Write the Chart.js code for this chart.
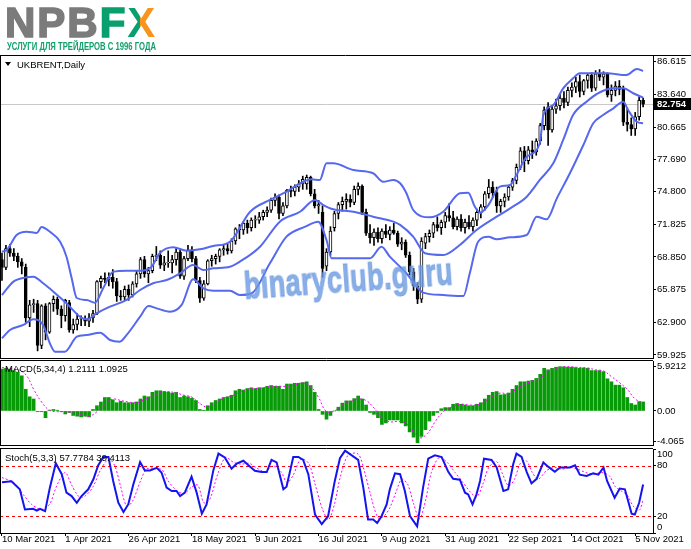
<!DOCTYPE html>
<html>
<head>
<meta charset="utf-8">
<script src="https://cdn.jsdelivr.net/npm/chart.js@4.4.1/dist/chart.umd.min.js"></script>
<style>
html,body{margin:0;padding:0;background:#fff;}
#wrap{position:relative;width:691px;height:549px;overflow:hidden;font-family:"Liberation Sans",Arial,sans-serif;background:#fff;}
canvas{position:absolute;left:0;top:0;}
.txt{position:absolute;white-space:nowrap;font-size:9.5px;line-height:11px;color:#000;z-index:5;}
#logo{position:absolute;left:5px;top:2px;font-weight:bold;font-size:42px;line-height:41px;letter-spacing:2px;color:#7b7b7b;-webkit-text-stroke:1.6px #7b7b7b;z-index:5;}
#logo .f{color:#0a9f6e;-webkit-text-stroke:1.6px #0a9f6e;}
#logo .x{background:linear-gradient(90deg,#0a9f6e 0,#0a9f6e 42%,#f7941d 42%,#f7941d 100%);-webkit-background-clip:text;background-clip:text;color:transparent;-webkit-text-stroke:0;}
#slogan{position:absolute;left:7px;top:40px;font-weight:bold;font-size:11px;line-height:12px;color:#12a06a;transform:scaleX(0.7);transform-origin:0 0;white-space:nowrap;z-index:5;}
#tri{position:absolute;left:5px;top:62px;width:0;height:0;border-left:3px solid transparent;border-right:3px solid transparent;border-top:4px solid #000;z-index:5;}
#wm{position:absolute;left:245px;top:267px;font-weight:bold;font-size:38px;line-height:38px;color:rgba(105,152,224,0.78);-webkit-text-stroke:1px rgba(105,152,224,0.78);letter-spacing:0.5px;transform-origin:0 32px;transform:rotate(-4deg) scaleX(0.71);white-space:nowrap;z-index:4;}
</style>
</head>
<body>
<div id="wrap">
  <canvas id="cMain" width="691" height="549"></canvas>
  <canvas id="cMacd" width="691" height="549"></canvas>
  <canvas id="cStoch" width="691" height="549"></canvas>
  <div id="logo">NPB<span class="f">F</span><span class="x">X</span></div>
  <div id="slogan">УСЛУГИ ДЛЯ ТРЕЙДЕРОВ С 1996 ГОДА</div>
  <div id="tri"></div>
  <div class="txt" style="left:17px;top:58.5px;">UKBRENT,Daily</div>
  <div class="txt" style="left:5px;top:363px;">MACD(5,34,4) 1.2111 1.0925</div>
  <div class="txt" style="left:5px;top:451.5px;">Stoch(5,3,3) 57.7784 39.4113</div>
  <div id="wm">binaryclub.guru</div>
</div>
<script>
// ---------------- DATA ----------------
const dateLabels = ["10 Mar 2021","1 Apr 2021","26 Apr 2021","18 May 2021","9 Jun 2021","16 Jul 2021","9 Aug 2021","31 Aug 2021","22 Sep 2021","14 Oct 2021","5 Nov 2021"];
const dateIdx = [0,16,32,48,64,80,96,112,128,144,160];

const priceTicks = [59.925,62.900,65.875,68.850,71.825,74.800,77.690,80.665,83.640,86.615];
const bidPrice = 82.754;
const macdTicks = [5.9212,0,-4.065];
const macdTickLabels = ["5.9212","0.00","-4.065"];
const stochTicks = [0,20,80,100];
const stochLevels = [20,80];

const open = [68.6,67.9,69.6,69.2,68.9,68.4,67.9,63.3,64.5,64.6,60.8,64.4,62.0,64.6,65.0,64.1,63.5,64.7,62.2,62.7,
63.2,63.2,63.0,63.3,63.7,66.6,66.9,66.8,67.0,66.6,65.3,65.2,65.9,65.4,66.4,67.3,68.6,67.3,67.6,68.9,
69.0,68.1,68.3,68.3,68.6,69.3,67.1,68.7,69.5,68.7,66.7,65.1,66.4,68.5,68.7,68.9,69.5,69.6,69.4,70.3,
71.4,71.3,71.9,71.5,72.2,72.2,72.5,72.9,73.1,74.0,74.3,72.8,73.5,74.9,74.8,75.2,75.5,75.5,76.1,74.6,
73.5,72.9,68.0,69.3,71.5,72.8,73.6,73.9,74.1,73.8,75.0,75.3,72.9,71.0,70.6,71.1,70.5,71.2,70.9,71.3,
71.0,70.0,70.2,69.0,67.5,66.2,65.0,70.1,70.7,71.0,71.8,71.5,72.0,72.6,72.4,71.6,72.3,71.5,72.0,71.6,
72.2,72.9,73.4,74.6,75.2,74.7,73.5,73.9,74.3,75.2,75.8,77.0,78.5,77.6,78.6,78.4,79.4,80.8,82.5,80.4,
82.3,82.6,83.3,82.9,84.0,84.3,84.8,83.9,84.9,85.4,84.2,85.5,85.2,85.5,83.6,84.0,84.4,84.1,81.1,80.9,
80.5,81.6,83.1];
const high = [69.2,69.9,70.0,69.6,69.2,68.7,68.2,64.9,65.0,64.9,64.5,64.6,64.7,65.3,65.2,64.4,65.0,64.9,63.2,63.7,
63.5,63.5,63.7,64.0,66.7,67.1,67.4,67.4,67.7,66.9,65.8,66.2,66.3,66.6,67.6,68.8,68.9,67.9,69.1,69.8,
69.4,68.9,69.4,69.0,69.6,69.5,68.9,69.9,69.8,68.9,67.0,66.7,68.6,69.0,69.1,69.6,69.9,70.0,70.5,71.5,
71.8,72.0,72.2,72.4,72.6,72.9,73.1,73.4,74.2,74.6,74.5,73.8,75.0,75.3,75.4,75.8,76.2,76.3,76.2,75.0,
74.0,73.5,69.6,71.6,73.0,73.8,74.3,74.6,74.5,75.3,75.6,75.4,73.2,71.8,71.4,71.5,71.4,71.8,71.6,71.9,
71.2,70.6,70.4,69.3,67.8,66.5,70.6,71.0,71.3,72.0,72.5,72.2,72.9,73.7,73.0,72.5,72.7,72.3,72.6,72.4,
73.2,73.6,74.8,75.9,75.7,75.2,74.1,74.6,75.3,76.0,77.3,78.8,78.9,78.9,79.4,79.6,81.0,82.5,82.9,82.6,
83.2,83.7,83.9,84.3,84.7,85.2,85.4,85.0,85.5,85.6,85.8,85.9,85.7,85.6,84.5,84.8,84.9,84.4,82.4,81.5,
82.0,83.4,83.3];
const low = [66.7,67.7,68.9,68.5,67.9,67.3,62.9,62.5,63.8,60.3,60.5,61.3,61.9,63.9,63.6,62.4,63.0,62.0,61.9,62.2,
62.6,62.6,62.5,62.9,63.6,66.0,66.5,66.2,66.0,64.8,64.9,64.9,64.9,65.2,66.1,66.9,67.0,66.5,67.4,68.5,
67.8,67.6,67.9,67.4,68.1,66.9,66.8,68.5,68.4,66.5,64.7,64.9,66.3,68.0,68.2,68.4,69.0,69.1,69.2,70.0,
70.5,70.9,71.0,71.2,71.5,71.9,72.2,72.5,72.9,73.5,72.3,72.6,73.3,74.3,74.4,74.8,75.0,75.0,74.4,73.3,
72.8,67.0,67.6,69.0,71.2,72.3,73.0,73.2,73.4,73.6,74.5,72.7,70.8,70.1,69.9,70.2,70.1,70.6,70.4,70.9,
69.8,69.5,68.8,67.2,65.8,64.6,64.7,69.6,70.2,70.6,71.2,70.9,71.5,72.1,71.4,71.3,71.2,71.0,71.4,71.2,
71.7,72.4,73.1,74.2,74.3,72.9,72.9,73.4,74.0,74.9,75.5,76.8,76.6,77.3,77.8,78.1,79.1,80.4,79.0,80.2,
81.9,82.2,82.4,82.6,83.4,83.8,83.4,83.6,84.2,83.9,84.0,84.9,84.5,83.4,83.0,83.5,83.6,80.8,80.3,79.9,
79.9,81.3,82.5];
const close = [67.9,69.6,69.2,68.9,68.4,68.0,63.3,64.5,64.6,60.8,64.4,62.0,64.6,65.0,64.1,63.5,64.9,62.2,62.7,63.2,
63.25,63.0,63.3,63.7,66.6,66.9,66.8,67.0,66.6,65.3,65.2,65.9,65.4,66.4,67.3,68.6,67.3,67.6,68.9,69.0,
68.1,68.3,68.35,68.6,69.3,67.1,68.7,69.5,68.7,66.7,65.1,66.4,68.5,68.7,68.9,69.5,69.6,69.4,70.3,71.4,
71.3,71.9,71.5,72.2,72.25,72.5,72.9,73.1,74.0,74.3,72.8,73.5,74.9,74.8,75.2,75.5,75.9,76.1,74.6,73.5,
73.6,67.8,69.3,71.2,72.8,73.6,73.9,74.1,73.8,75.0,75.3,72.9,71.0,70.6,71.1,70.5,71.2,70.9,71.3,71.0,
70.0,70.2,69.0,67.5,66.2,65.0,70.3,70.7,71.0,71.8,71.5,72.0,72.6,72.4,71.6,72.3,71.5,72.0,71.6,72.2,
72.9,73.4,74.6,75.2,74.7,73.5,73.9,74.3,75.2,75.8,77.0,78.5,77.6,78.6,78.4,79.4,80.8,82.2,80.4,82.3,
82.6,83.3,82.9,84.0,84.3,84.8,83.9,84.9,85.4,84.2,85.5,85.2,85.5,83.6,84.0,84.4,84.1,81.1,80.9,80.5,
81.6,83.1,82.754];

// Bollinger bands (read at sampled bars)
const upperX = [0,1.2,3.7,6.2,8.8,10,12.1,14.7,16.3,17.6,18.9,21.4,23.5,25.6,28.1,31.5,34.9,37.8,39.9,43.3,46.7,50,53.4,57.6,62.7,67.7,71.9,76.1,78.2,80.3,82,83.7,88.8,93.8,96.3,98.9,100.6,102.2,103.9,108.1,111.5,115.7,117.8,119.5,120.8,122.9,125.8,128.4,130,132.6,135.9,136.8,139.3,141.8,144.3,146,152.8,157.8,160.4,162];
const upperV = [69.32,69.48,70.84,71.14,71.03,71.57,71.14,70.23,68.87,66.93,65.11,64.93,64.68,66.02,67.5,67.6,67.6,67.96,69.21,69.73,69.42,69.54,69.84,70.23,72.96,74.03,74.79,75.69,75.91,75.85,77.37,77.37,76.76,76.46,75.69,75.85,75.55,74.64,73.12,72.45,72.96,74.64,74.69,73.42,72.87,73.57,75.24,75.39,76.3,77.97,79.19,81.76,82.67,84.19,85.1,85.56,85.56,85.4,85.95,85.77];
const middleX = [0,2.9,6.2,7.9,10.4,13,16.3,19.7,21.4,23.9,27.3,31.5,34.9,38.2,41.6,45,48.3,50.9,53.4,57.6,60.1,65.2,70.2,75.3,79.1,81.2,83.7,88.8,93.8,98.9,100.6,103.9,106.9,111.5,115.7,119.9,125,128.4,132.6,135.9,139.3,141.8,144.3,147.7,151.1,154.5,157,159.5,162];
const middleV = [65.38,66.6,67,67.05,66.45,65.69,64.63,63.41,63.17,63.72,64.32,64.93,65.84,66.45,66.75,67.36,68.11,67.66,67.81,67.96,68.42,69.78,72.06,72.96,74.03,73.57,73.18,72.96,72.51,72.06,71.76,70.69,69.18,69.02,69.94,71.3,72.51,73.27,74.33,75.85,77.37,79.49,81.76,82.97,83.83,84.19,84.19,83.74,83.34];
const lowerX = [0,2,5.4,7.9,10.4,12.1,13.4,15.9,18.9,21.4,24.8,27.3,29.8,31.5,34.9,37,39.1,42.4,45.4,48.3,50.9,53.4,57.6,60.1,63.1,67.7,71.9,76.6,79.9,82,83.3,88.8,93,95.9,98,102.2,104.8,106.4,111.5,116.6,118.2,120.3,122.9,125,128.4,132.6,135.1,137.6,140.2,143.5,146.9,149.4,151.9,154.5,157,158.2,160.4,162];
const lowerV = [61.45,62.2,62.66,63.17,62.66,60.99,60.23,60.23,61.59,61.75,61.95,61.29,61.14,61.75,63.41,64.38,64.17,63.87,64.48,66.81,65.99,65.78,65.78,65.38,65.54,68.27,70.69,71.6,72.06,70.39,68.73,68.73,68.73,69.78,68.87,67.36,66.14,65.6,65.38,65.29,67.36,70.23,70.69,70.45,70.63,70.84,72.51,72.27,74.18,76.46,79.03,81.01,81.76,82.37,82.97,82.22,81.15,81.01];

// MACD histogram (per bar) and signal (sampled)
const macdHist = [5.6,5.7,5.6,5.4,5.2,4.7,2.9,1.9,1.6,-0.1,
-0.1,-0.9,0.1,0.2,0.1,-0.1,-0.4,-0.2,-0.6,-0.7,
-0.8,-0.7,-0.8,0.2,0.7,1.2,1.8,1.8,1.5,1.1,
1.3,1.1,1.1,1.1,1.2,1.6,2.0,1.9,2.5,2.7,
2.7,2.6,2.5,2.4,2.5,1.8,2.0,1.9,1.7,1.4,
0.2,0.1,0.7,1.1,1.4,1.6,1.8,1.9,2.1,2.7,
2.9,2.8,3.0,3.1,3.0,3.1,3.1,3.3,3.4,3.3,
3.3,2.9,3.6,3.6,3.7,3.7,3.8,3.9,3.4,2.5,
0.2,-0.45,-1.1,-0.6,0.0,0.5,1.05,1.35,1.35,1.65,
2.0,1.6,0.8,-0.2,-0.45,-0.9,-1.8,-1.6,-1.2,-1.2,
-1.2,-1.6,-2.0,-2.8,-3.5,-4.25,-3.4,-2.5,-1.35,-0.6,
-0.2,0.3,0.45,0.45,0.9,1.0,0.9,0.8,0.7,0.7,
0.9,1.1,1.6,2.1,2.5,2.6,2.15,2.2,2.4,2.9,
3.4,3.9,3.9,4.0,4.1,4.35,4.9,5.7,5.5,5.7,
5.85,5.92,5.9,5.85,5.85,5.8,5.7,5.75,5.7,5.4,
5.4,5.4,5.25,4.3,3.9,3.45,3.45,3.1,1.8,1.0,
0.8,1.25,1.21];
const macdSigX = [0,3,5,6.5,8,10,12,14,16,18,20,22,24,26,28,30,32,34,36,38,40,42,44,46,48,50,52,54,56,58,60,62,64,66,68,70,72,74,76,78,80,82,84,86,88,90,92,94,96,98,100,102,104,105.6,107.5,109.5,111.5,114,116,118,120,122,124,126,128,130,132,134,136,138,140,142,144,146,148,150,152,154,156,158,160,162];
const macdSigV = [5.8,5.6,5.3,4.5,2.9,1.2,0.1,-0.1,-0.1,-0.3,-0.5,-0.7,-0.1,1.0,1.6,1.4,1.2,1.1,1.5,2.0,2.5,2.6,2.4,2.1,1.85,1.0,0.5,1.1,1.7,2.0,2.5,2.9,3.0,3.1,3.3,3.3,3.3,3.5,3.75,3.3,1.8,-0.1,0.0,0.8,1.3,1.6,1.4,0.4,-0.9,-1.45,-1.4,-1.6,-2.8,-3.6,-3.0,-1.4,-0.1,0.6,0.9,0.8,0.8,1.2,2.0,2.4,2.3,2.9,3.6,4.0,4.4,5.3,5.7,5.9,5.9,5.8,5.75,5.5,5.35,4.6,3.8,2.9,1.6,1.09];

// Stochastic main and signal (sampled)
const stochMainX = [0,2.4,4.5,5.8,7.9,8.8,9.6,10.9,12.1,13.6,15.1,16.3,17.6,18.9,20.1,21.8,23.1,24.3,25.6,26.9,28.1,29.4,30.7,31.9,33.2,34.9,36.1,37.4,39.1,40.3,41.6,42.9,44.1,45,46.2,47.9,49.2,50.5,51.7,53.4,54.7,56.3,58,59.3,61,62.2,63.9,65.6,66.9,68.1,69.4,71.1,71.9,73.6,74.9,76.1,77.4,79.1,80.8,82.4,84.1,85.4,86.7,90,91.3,92.5,93.8,94.8,95.9,97.2,98,99.3,100.6,101.8,103.1,104.9,106.4,107.7,109.4,111.1,112.8,114,115.7,117,117.8,118.9,119.9,120.8,121.8,123.7,125,126.7,127.9,129.2,130,131.3,132.6,133.8,135.1,136.8,138,139.7,141,143.5,144.8,146,147.7,149.4,150.7,152,152.9,154.8,156.1,157.4,159.1,159.9,161,162];
const stochMainV = [60.3,61.5,52,28,28.8,26.7,28.8,26,54,83,70,48,44,36,44,52,64,80.5,90.5,90.5,62,36,25,34,58,84.5,74.5,74.5,77.5,72,54,50,50,44,48,67,48,23,34,74.5,94.5,90,76.5,82.5,86,81,74,72.5,72.5,87,84,52,55,90.5,90.5,87,70,22,10.7,20,62,89,98,87,54,16,16,12,20,34,52,71,70,50,20,8,54,88.5,92.5,90.5,72.5,64.5,63.5,48,46,34,46,62,88.5,87,78,50,52,82.5,94.5,90.5,72.5,59,64.5,84,79,73,78,78,80.5,69.5,68,71,69.5,78,62,42,53,52,23,22,36,57.8];
const stochSigX = [0,3,5.5,7.5,10,12,14,16,17.5,19.5,21,23,25,27,28.5,30,31.5,33,35,36.5,38.5,40.5,42,44,46,48,49.5,51,52.5,54.5,56.5,58.5,60.5,62.5,64.5,66.5,68.5,70.5,72,73.5,75.5,77.5,79,81,82.5,84,85.5,87.5,90,91.5,93,95,96.5,98,99.5,101,102.5,104,105.5,107,108.5,110.5,112.5,114.5,116.5,118.5,120,121.5,123,125,126.5,128,129.5,131,132.5,134,135.5,137.5,139.5,141.5,143.5,145.5,147.5,149.5,151.5,153.5,155,156.5,158,159.5,161,162];
const stochSigV = [66,60,45,34,28,34,58,72,58,43,44,55,76,88,80,55,32,38,62,76,77,75,62,51,47,55,57,36,40,70,90,84,82,83,77,73,80,73,60,68,88,83,60,28,16,34,67,93,94,75,48,18,20,30,48,64,58,35,17,38,72,90,84,72,60,48,43,58,78,85,70,56,64,83,86,72,64,74,78,76,78,76,72,70,72,68,55,50,45,32,27,39.4];

// ---------------- STYLE ----------------
const FONT = '"Liberation Sans", Arial, sans-serif';
Chart.defaults.font.family = FONT;
Chart.defaults.font.size = 9.5;
Chart.defaults.color = '#000';
const BAND = '#5568ee';
const XMIN = -0.5, XMAX = 164.5;
const pts = (xs, ys) => xs.map((x, k) => ({x: x, y: ys[k]}));

function yAxis(min, max, ticksArr, fmt) {
  return {
    position: 'right', min: min, max: max,
    afterBuildTicks: s => { s.ticks = ticksArr.map(v => ({value: v})); },
    afterFit: s => { s.width = 38; s.paddingTop = 0; s.paddingBottom = 0; },
    ticks: {autoSkip: false, padding: 1, color: '#000', font: {size: 9.5}, callback: fmt},
    grid: {drawOnChartArea: false, drawTicks: true, tickLength: 3, color: '#000'},
    border: {display: true, color: '#000', width: 1}
  };
}

function framePlugin(topFull) {
  return {
    id: 'frame',
    afterDraw(chart) {
      const ctx = chart.ctx, a = chart.chartArea;
      ctx.save();
      ctx.strokeStyle = '#000'; ctx.lineWidth = 1;
      ctx.beginPath();
      ctx.moveTo(0, a.top - 0.5); ctx.lineTo(topFull ? 691 : a.right, a.top - 0.5);
      ctx.moveTo(0.5, a.top - 0.5); ctx.lineTo(0.5, a.bottom + 0.5);
      ctx.moveTo(0, a.bottom + 0.5); ctx.lineTo(a.right, a.bottom + 0.5);
      ctx.stroke();
      ctx.restore();
    }
  };
}

const bidPlugin = {
  id: 'bid',
  beforeDatasetsDraw(chart) {
    const ctx = chart.ctx, a = chart.chartArea;
    const y = Math.round(chart.scales.y.getPixelForValue(bidPrice)) + 0.5;
    ctx.save();
    ctx.strokeStyle = '#c8c8c8'; ctx.lineWidth = 1;
    ctx.beginPath(); ctx.moveTo(a.left, y); ctx.lineTo(a.right, y); ctx.stroke();
    ctx.restore();
  },
  afterDraw(chart) {
    const ctx = chart.ctx, a = chart.chartArea;
    const y = chart.scales.y.getPixelForValue(bidPrice);
    ctx.save();
    ctx.fillStyle = '#000';
    ctx.fillRect(a.right, Math.round(y) - 6, 691 - a.right, 12);
    ctx.fillStyle = '#fff';
    ctx.font = 'bold 9.5px ' + FONT;
    ctx.textBaseline = 'middle';
    ctx.fillText(bidPrice.toFixed(3), a.right + 4, Math.round(y) + 0.5);
    ctx.restore();
  }
};

const levelPlugin = {
  id: 'levels',
  beforeDatasetsDraw(chart) {
    const ctx = chart.ctx, a = chart.chartArea;
    ctx.save();
    ctx.strokeStyle = '#ff0000'; ctx.lineWidth = 1; ctx.setLineDash([3, 3]);
    stochLevels.forEach(l => {
      const y = Math.round(chart.scales.y.getPixelForValue(l)) + 0.5;
      ctx.beginPath(); ctx.moveTo(a.left, y); ctx.lineTo(a.right, y); ctx.stroke();
    });
    ctx.restore();
  }
};

const common = {responsive: false, animation: false, events: [],
  plugins: {legend: {display: false}, tooltip: {enabled: false}}};

// ---------------- MAIN PRICE CHART ----------------
new Chart(document.getElementById('cMain'), {
  type: 'bar',
  data: {datasets: [
    {type: 'line', data: pts(upperX, upperV), borderColor: BAND, borderWidth: 2, pointRadius: 0, cubicInterpolationMode: 'monotone', order: 1},
    {type: 'line', data: pts(middleX, middleV), borderColor: BAND, borderWidth: 2, pointRadius: 0, cubicInterpolationMode: 'monotone', order: 1},
    {type: 'line', data: pts(lowerX, lowerV), borderColor: BAND, borderWidth: 2, pointRadius: 0, cubicInterpolationMode: 'monotone', order: 1},
    {type: 'bar', data: open.map((o, i) => ({x: i, y: [o, close[i]]})),
      backgroundColor: open.map((o, i) => close[i] >= o ? '#ffffff' : '#000000'),
      borderColor: '#000', borderWidth: 1, borderSkipped: false, barThickness: 3, grouped: false, order: 2},
    {type: 'bar', data: low.map((l, i) => ({x: i, y: [l, high[i]]})),
      backgroundColor: '#000', borderWidth: 0, barThickness: 1, grouped: false, order: 3}
  ]},
  options: Object.assign({}, common, {
    layout: {padding: {top: 56, bottom: 191, left: 0, right: 0}},
    scales: {
      x: {type: 'linear', min: XMIN, max: XMAX, offset: false, display: false},
      y: yAxis(59.652, 87.13, priceTicks, v => v.toFixed(3))
    }
  }),
  plugins: [framePlugin(true), bidPlugin]
});

// ---------------- MACD ----------------
new Chart(document.getElementById('cMacd'), {
  type: 'bar',
  data: {datasets: [
    {type: 'line', data: pts(macdSigX, macdSigV), borderColor: '#ff00ff', borderWidth: 1, borderDash: [2, 2], pointRadius: 0, tension: 0.4, order: 1},
    {type: 'bar', data: macdHist.map((v, i) => ({x: i, y: v})), backgroundColor: '#079b07', barThickness: 3, grouped: false, order: 2}
  ]},
  options: Object.assign({}, common, {
    layout: {padding: {top: 361, bottom: 104, left: 0, right: 0}},
    scales: {
      x: {type: 'linear', min: XMIN, max: XMAX, offset: false, display: false},
      y: yAxis(-4.55, 6.68, macdTicks, v => macdTickLabels[macdTicks.indexOf(v)])
    }
  }),
  plugins: [framePlugin(false)]
});

// ---------------- STOCHASTIC ----------------
// 0 and 100 labels sit inside the window (MT4 style): use two-line labels
const stochFmt = v => v === 100 ? ['', '100'] : (v === 0 ? ['0', ''] : String(v));
new Chart(document.getElementById('cStoch'), {
  type: 'line',
  data: {datasets: [
    {data: pts(stochMainX, stochMainV), borderColor: '#1414f0', borderWidth: 2, pointRadius: 0, tension: 0, order: 1},
    {data: pts(stochSigX, stochSigV), borderColor: '#ff00ff', borderWidth: 1, borderDash: [2, 2], pointRadius: 0, tension: 0.3, order: 2}
  ]},
  options: Object.assign({}, common, {
    layout: {padding: {top: 449, bottom: 0, left: 0, right: 0}},
    scales: {
      x: {type: 'linear', position: 'bottom', min: XMIN, max: XMAX, offset: false,
        afterBuildTicks: s => { s.ticks = dateIdx.map(v => ({value: v})); },
        afterFit: s => { s.height = 16; },
        ticks: {autoSkip: false, maxRotation: 0, align: 'start', padding: -2, color: '#000', font: {size: 9.5},
          callback: v => dateLabels[dateIdx.indexOf(v)]},
        grid: {drawOnChartArea: false, drawTicks: true, tickLength: 3, color: '#000'},
        border: {display: true, color: '#000'}
      },
      y: yAxis(0, 100, stochTicks, stochFmt)
    }
  }),
  plugins: [framePlugin(false), levelPlugin]
});
</script>
</body>
</html>
